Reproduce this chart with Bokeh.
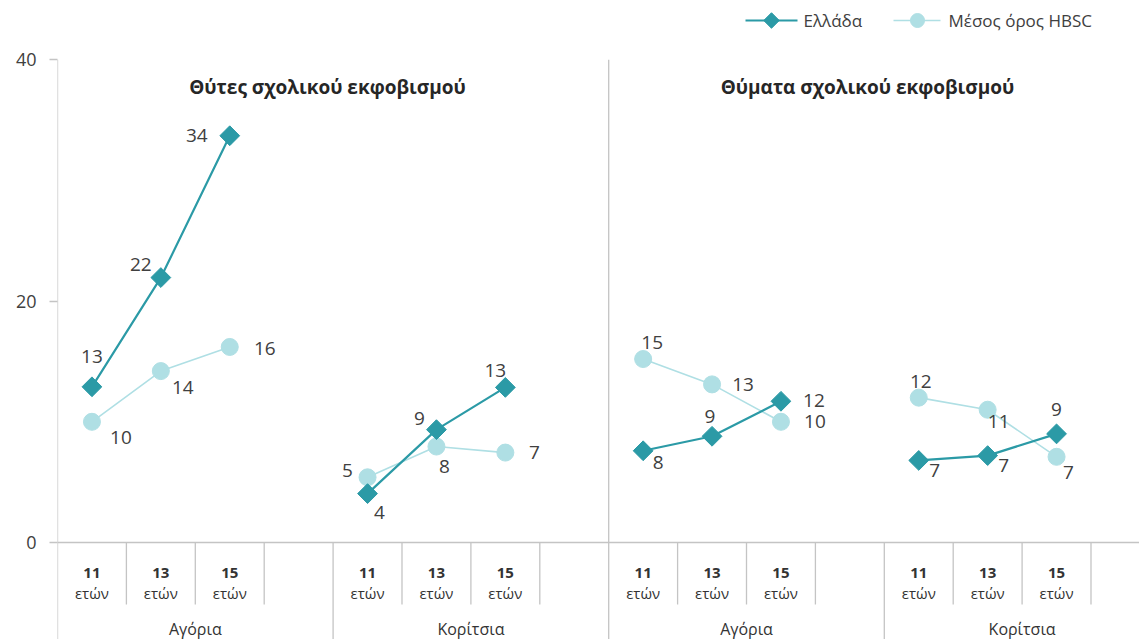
import math
from bokeh.plotting import figure
from bokeh.models import Range1d, FixedTicker, ColumnDataSource
from bokeh.core.properties import value
from bokeh.embed import file_html
from bokeh.resources import INLINE

# ---------------- data ----------------
panels = ["Θύτες σχολικού εκφοβισμού", "Θύματα σχολικού εκφοβισμού"]
genders = ["Αγόρια", "Κορίτσια"]
ages = ["11", "13", "15"]
age_unit = "ετών"
series_names = ["Ελλάδα", "Μέσος όρος HBSC"]
y_ticks = [0, 20, 40]

greece_perp_boys = [12.9, 21.95, 33.7]
greece_perp_girls = [4.05, 9.35, 12.85]
greece_vict_boys = [7.6, 8.8, 11.7]
greece_vict_girls = [6.8, 7.2, 9.0]

hbsc_perp_boys = [10.0, 14.2, 16.2]
hbsc_perp_girls = [5.4, 7.95, 7.45]
hbsc_vict_boys = [15.2, 13.1, 10.0]
hbsc_vict_girls = [12.0, 11.0, 7.1]

greece_perp_boys_lbl = ["13", "22", "34"]
greece_perp_girls_lbl = ["4", "9", "13"]
greece_vict_boys_lbl = ["8", "9", "12"]
greece_vict_girls_lbl = ["7", "7", "9"]
hbsc_perp_boys_lbl = ["10", "14", "16"]
hbsc_perp_girls_lbl = ["5", "8", "7"]
hbsc_vict_boys_lbl = ["15", "13", "10"]
hbsc_vict_girls_lbl = ["12", "11", "7"]

# ---------------- styling / layout ----------------
GREECE = "#2b9aa6"
HBSC = "#afdfe4"
TEXT = "#404040"
GRID = "#c4c4c4"
FONT = "Open Sans"

W, H = 1139, 639
LEFT = 57              # frame left (px)
ZERO_PX = 542          # y pixel of value 0
PX_PER_X = 68.9        # px per category slot
PX_PER_Y = 12.07       # px per unit

SLOTS_PER_GENDER = 4   # 3 ages + 1 empty slot
SLOTS_PER_PANEL = 8
X_END = (W - LEFT) / PX_PER_X
Y_MAX = ZERO_PX / PX_PER_Y
Y_MIN = (ZERO_PX - H) / PX_PER_Y


def px2x(px):
    return (px - LEFT) / PX_PER_X


def py2y(py):
    return (ZERO_PX - py) / PX_PER_Y


# label offsets (screen px) per group, per point
off = {
    ("g", 0, 0): [(0, -30), (-20, -13), (-33, 0)],
    ("g", 0, 1): [(12, 19), (-17, -11), (-10, -17)],
    ("g", 1, 0): [(15, 12), (-2, -20), (33, -1)],
    ("g", 1, 1): [(16, 10), (16, 10), (0, -24)],
    ("h", 0, 0): [(29, 16), (22, 16), (35, 2)],
    ("h", 0, 1): [(-20, -7), (8, 20), (29, 0)],
    ("h", 1, 0): [(9, -17), (31, 0), (34, 0)],
    ("h", 1, 1): [(2, -16), (11, 12), (12, 16)],
}

greece = {(0, 0): (greece_perp_boys, greece_perp_boys_lbl),
          (0, 1): (greece_perp_girls, greece_perp_girls_lbl),
          (1, 0): (greece_vict_boys, greece_vict_boys_lbl),
          (1, 1): (greece_vict_girls, greece_vict_girls_lbl)}
hbsc = {(0, 0): (hbsc_perp_boys, hbsc_perp_boys_lbl),
        (0, 1): (hbsc_perp_girls, hbsc_perp_girls_lbl),
        (1, 0): (hbsc_vict_boys, hbsc_vict_boys_lbl),
        (1, 1): (hbsc_vict_girls, hbsc_vict_girls_lbl)}


def xpos(panel, gender, age):
    return panel * SLOTS_PER_PANEL + gender * SLOTS_PER_GENDER + age + 0.5


p = figure(width=W, height=H,
           x_range=Range1d(0, X_END), y_range=Range1d(Y_MIN, Y_MAX),
           output_backend="svg", toolbar_location=None, x_axis_location=None,
           min_border_left=LEFT, min_border_right=0, min_border_top=0, min_border_bottom=0)
p.outline_line_color = None
p.xgrid.visible = False
p.ygrid.visible = False
p.background_fill_color = "white"

yax = p.yaxis[0]
yax.ticker = FixedTicker(ticks=y_ticks)
yax.axis_line_color = None
yax.major_tick_line_color = GRID
yax.major_tick_line_width = 1.3
yax.major_tick_out = 8
yax.major_tick_in = 0
yax.minor_tick_line_color = None
yax.major_label_text_font = FONT
yax.major_label_text_font_size = "18px"
yax.major_label_text_color = TEXT
yax.major_label_standoff = 13

# ---- separators / axis lines (derived from slot layout)
n_slots = 2 * SLOTS_PER_PANEL
sx0, sy0, sx1, sy1 = [], [], [], []
for b in range(0, n_slots + 1):
    if b > X_END:
        continue
    if b % SLOTS_PER_PANEL == 0:
        top, bot = y_ticks[-1], Y_MIN
    elif b % SLOTS_PER_GENDER == 0:
        top, bot = 0, Y_MIN
    else:
        top, bot = 0, py2y(604)
    sx0.append(b); sx1.append(b); sy0.append(top); sy1.append(bot)
sx0.append(0); sx1.append(X_END); sy0.append(0); sy1.append(0)
p.segment(x0=sx0, y0=sy0, x1=sx1, y1=sy1, line_color=GRID, line_width=1.3)

# ---- series
label_rows = {"x": [], "y": [], "text": [], "dx": [], "dy": []}
for key, data, color in (("h", hbsc, HBSC), ("g", greece, GREECE)):
    for (pan, gen), (vals, lbls) in data.items():
        xs = [xpos(pan, gen, a) for a in range(len(ages))]
        src = ColumnDataSource(dict(x=xs, y=vals))
        p.line("x", "y", source=src, line_color=color,
               line_width=2.2 if key == "g" else 1.6)
        if key == "g":
            p.scatter("x", "y", source=src, marker="square", angle=math.pi / 4,
                      size=14, fill_color=color, line_color=color)
        else:
            p.scatter("x", "y", source=src, marker="circle", size=17,
                      fill_color=color, line_color=color)
        for i, (xv, yv, t) in enumerate(zip(xs, vals, lbls)):
            dx, dy = off[(key, pan, gen)][i]
            label_rows["x"].append(xv); label_rows["y"].append(yv)
            label_rows["text"].append(t)
            label_rows["dx"].append(dx); label_rows["dy"].append(dy)

p.text(x="x", y="y", text="text", x_offset="dx", y_offset="dy",
       source=ColumnDataSource(label_rows), text_align="center", text_baseline="middle",
       text_font=value(FONT), text_font_size="19px", text_color=TEXT)

# ---- panel titles
p.text(x=[px2x(327), px2x(867)], y=[py2y(86)] * 2, text=panels,
       text_align="center", text_baseline="middle", text_font=value(FONT),
       text_font_size="19px", text_font_style="bold", text_color="#262626")

# ---- category labels
ax, ay, at = [], [], []
ux, uy, ut = [], [], []
gx, gy, gt = [], [], []
for pan in range(2):
    for gen, gname in enumerate(genders):
        for a, age in enumerate(ages):
            xv = xpos(pan, gen, a)
            ax.append(xv); ay.append(py2y(572)); at.append(age)
            ux.append(xv); uy.append(py2y(592)); ut.append(age_unit)
        gx.append(pan * SLOTS_PER_PANEL + gen * SLOTS_PER_GENDER + SLOTS_PER_GENDER / 2)
        gy.append(py2y(628)); gt.append(gname)
p.text(x=ax, y=ay, text=at, text_align="center", text_baseline="middle",
       text_font=value(FONT), text_font_size="15px", text_font_style="bold", text_color="#333333")
p.text(x=ux, y=uy, text=ut, text_align="center", text_baseline="middle",
       text_font=value(FONT), text_font_size="15px", text_color="#333333")
p.text(x=gx, y=gy, text=gt, text_align="center", text_baseline="middle",
       text_font=value(FONT), text_font_size="16px", text_color="#333333")

# ---- legend (drawn in the top band of the frame)
LEG_Y = py2y(20)
p.segment(x0=[px2x(745), px2x(893)], y0=[LEG_Y] * 2, x1=[px2x(797), px2x(940)], y1=[LEG_Y] * 2,
          line_color=[GREECE, HBSC], line_width=[2.2, 1.6])
p.scatter(x=[px2x(771)], y=[LEG_Y], marker="square", angle=math.pi / 4, size=11,
          fill_color=GREECE, line_color=GREECE)
p.scatter(x=[px2x(917)], y=[LEG_Y], marker="circle", size=14,
          fill_color=HBSC, line_color=HBSC)
p.text(x=[px2x(803), px2x(948)], y=[LEG_Y] * 2, text=series_names,
       text_align="left", text_baseline="middle", text_font=value(FONT),
       text_font_size="17px", text_color=TEXT)

open("out.html", "w").write(file_html(p, INLINE))
